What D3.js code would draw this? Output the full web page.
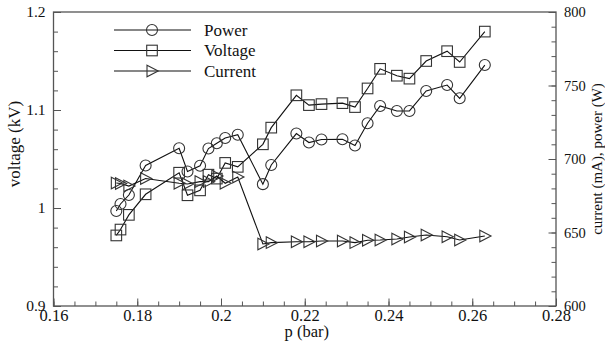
<!DOCTYPE html>
<html>
<head>
<meta charset="utf-8">
<script src="https://cdn.jsdelivr.net/npm/d3@7"></script>
</head>
<body style="margin:0;background:#fff">
<svg id="chart" width="605" height="345" style="display:block" font-family="Liberation Serif"></svg>
<script>
// Pressure (bar) at each measurement
const pressure = [0.175, 0.176, 0.178, 0.182, 0.190, 0.192, 0.195, 0.197, 0.199, 0.201,
                  0.204, 0.210, 0.212, 0.218, 0.221, 0.224, 0.229, 0.232, 0.235, 0.238,
                  0.242, 0.245, 0.249, 0.254, 0.257, 0.263];
// Discharge power (W), right axis
const power = [664.6, 669.4, 675.5, 695.6, 707.3, 691.5, 695.4, 707.1, 710.7, 714.3,
               716.5, 682.9, 695.9, 717.3, 711.2, 713.3, 713.4, 709.2, 724.3, 736.1,
               732.7, 732.7, 746.3, 750.3, 741.3, 763.9];
// Voltage (kV), left axis
const voltage = [0.972, 0.978, 0.993, 1.014, 1.036, 1.013, 1.018, 1.034, 1.030, 1.046,
                 1.042, 1.065, 1.082, 1.115, 1.105, 1.106, 1.107, 1.103, 1.122, 1.142,
                 1.135, 1.132, 1.150, 1.160, 1.149, 1.180];
// Current (mA), right axis
const current = [683.7, 683.3, 681.6, 686.7, 683.5, 683.0, 684.6, 684.6, 688.4, 683.5,
                 687.8, 642.2, 643.1, 643.7, 643.7, 644.2, 644.2, 643.1, 644.7, 644.9,
                 645.6, 646.9, 648.3, 647.1, 644.9, 647.6];

const xTicks = [0.16, 0.18, 0.20, 0.22, 0.24, 0.26, 0.28];
const yLeftTicks = [0.9, 1.0, 1.1, 1.2];
const yRightTicks = [600, 650, 700, 750, 800];
const legendLabels = ["Power", "Voltage", "Current"];

const FONT = "Liberation Serif";
const svg = d3.select("#chart");
const L = 53.5, R = 556, T = 12, B = 306;

const x = d3.scaleLinear().domain([0.16, 0.28]).range([L, R]);
const yL = d3.scaleLinear().domain([0.9, 1.2]).range([B, T]);
const yR = d3.scaleLinear().domain([600, 800]).range([B, T]);

const axisColor = "#555";
const ink = "#111";

// minor ticks
const minorX = d3.range(0.16, 0.2801, 0.005).map(v => +v.toFixed(3));
const minorL = d3.range(0.9, 1.2001, 0.02).map(v => +v.toFixed(2));
const minorR = d3.range(600, 801, 10);

function styleAxis(size) {
  return g => {
    g.select(".domain").remove();
    g.attr("font-family", FONT);
    g.selectAll(".tick line").attr("stroke", axisColor).attr("stroke-width", 1);
    g.selectAll(".tick text").attr("fill", ink).attr("font-size", size).style("font-family", FONT);
  };
}

svg.append("g").attr("transform", `translate(0,${B})`)
  .call(d3.axisBottom(x).tickValues(minorX).tickSize(-4.5).tickFormat(""))
  .call(styleAxis(16));
svg.append("g").attr("transform", `translate(0,${B})`)
  .call(d3.axisBottom(x).tickValues(xTicks).tickSize(-7.5).tickPadding(3).tickFormat(d3.format("")))
  .call(styleAxis(16.5));

svg.append("g").attr("transform", `translate(${L},0)`)
  .call(d3.axisLeft(yL).tickValues(minorL).tickSize(-4.5).tickFormat(""))
  .call(styleAxis(16));
svg.append("g").attr("transform", `translate(${L},0)`)
  .call(d3.axisLeft(yL).tickValues(yLeftTicks).tickSize(-7.5).tickPadding(8).tickFormat(d3.format("")))
  .call(styleAxis(15.5));

svg.append("g").attr("transform", `translate(${R},0)`)
  .call(d3.axisRight(yR).tickValues(minorR).tickSize(-4.5).tickFormat(""))
  .call(styleAxis(16));
svg.append("g").attr("transform", `translate(${R},0)`)
  .call(d3.axisRight(yR).tickValues(yRightTicks).tickSize(-7.5).tickPadding(8).tickFormat(d3.format("")))
  .call(styleAxis(14.5));

// frame
svg.append("rect").attr("x", L).attr("y", T).attr("width", R - L).attr("height", B - T)
  .attr("fill", "none").attr("stroke", axisColor).attr("stroke-width", 1.3);

// axis titles
svg.append("text").attr("x", (L + R) / 2 + 2).attr("y", 337)
  .attr("text-anchor", "middle").attr("font-size", 16.5).attr("fill", ink)
  .style("font-family", FONT).text("p (bar)");
svg.append("text").attr("transform", "translate(20,144) rotate(-90)")
  .attr("text-anchor", "middle").attr("font-size", 17).attr("fill", ink)
  .style("font-family", FONT).text("voltage (kV)");
svg.append("text").attr("transform", `translate(602,${(T + B) / 2}) rotate(-90)`)
  .attr("text-anchor", "middle").attr("font-size", 15).attr("fill", ink)
  .style("font-family", FONT).text("current (mA), power (W)");

// marker shapes
const markers = {
  circle: g => g.append("circle").attr("r", 5.5),
  square: g => g.append("rect").attr("x", -5.3).attr("y", -5.3).attr("width", 10.6).attr("height", 10.6),
  triangle: g => g.append("path").attr("d", "M-5,-5.8L6.2,0L-5,5.8Z")
};

const series = [
  { name: legendLabels[0], values: power, y: yR, marker: "circle" },
  { name: legendLabels[1], values: voltage, y: yL, marker: "square" },
  { name: legendLabels[2], values: current, y: yR, marker: "triangle" }
];

series.forEach(s => {
  const pts = pressure.map((p, i) => [p, s.values[i]]);
  const line = d3.line().x(d => x(d[0])).y(d => s.y(d[1]));
  svg.append("path").datum(pts).attr("d", line)
    .attr("fill", "none").attr("stroke", ink).attr("stroke-width", 1.1);
  const mg = svg.append("g");
  pts.forEach(d => {
    const g = mg.append("g").attr("transform", `translate(${x(d[0])},${s.y(d[1])})`);
    markers[s.marker](g).attr("fill", "none").attr("stroke", "#333").attr("stroke-width", 1.1);
  });
});

// legend
const legend = svg.append("g");
series.forEach((s, i) => {
  const yy = 30 + i * 20.5;
  legend.append("line").attr("x1", 114).attr("x2", 191).attr("y1", yy).attr("y2", yy)
    .attr("stroke", ink).attr("stroke-width", 1.1);
  const g = legend.append("g").attr("transform", `translate(152,${yy})`);
  markers[s.marker](g).attr("fill", "none").attr("stroke", "#333").attr("stroke-width", 1.1);
  legend.append("text").attr("x", 204).attr("y", yy + 5.5).attr("font-size", 17)
    .attr("fill", ink).style("font-family", FONT).text(s.name);
});
</script>
</body>
</html>
